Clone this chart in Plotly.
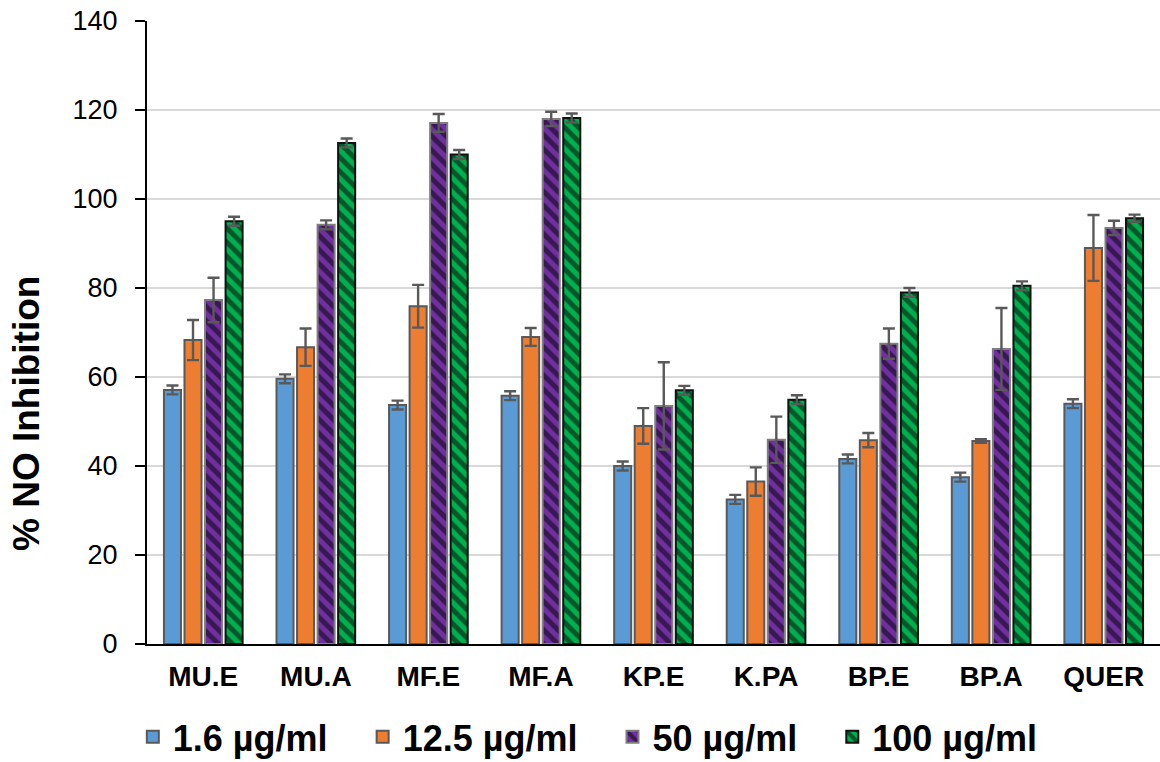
import plotly.graph_objects as go

categories = ["MU.E", "MU.A", "MF.E", "MF.A", "KP.E", "K.PA", "BP.E", "BP.A", "QUER"]
series_names = ["1.6 µg/ml", "12.5 µg/ml", "50 µg/ml", "100 µg/ml"]
v_1_6 = [57.1, 59.6, 53.7, 55.8, 40.0, 32.5, 41.6, 37.5, 54.0]
v_12_5 = [68.3, 66.7, 75.9, 69.0, 49.0, 36.5, 45.8, 45.6, 89.0]
v_50 = [77.3, 94.2, 117.1, 118.0, 53.5, 45.9, 67.5, 66.3, 93.5]
v_100 = [95.0, 112.6, 110.0, 118.2, 57.0, 54.9, 79.0, 80.5, 95.7]
e_1_6 = [1.0, 1.0, 1.0, 1.0, 1.0, 1.0, 1.0, 1.0, 1.0]
e_12_5 = [4.5, 4.2, 4.8, 2.0, 4.0, 3.2, 1.6, 0.4, 7.4]
e_50 = [5.0, 1.0, 2.0, 1.6, 9.8, 5.2, 3.4, 9.2, 1.6]
e_100 = [1.0, 1.0, 1.0, 1.0, 1.0, 1.0, 1.0, 1.0, 0.8]
y_ticks = [0, 20, 40, 60, 80, 100, 120, 140]
y_title = "% NO Inhibition"

values = [v_1_6, v_12_5, v_50, v_100]
errors = [e_1_6, e_12_5, e_50, e_100]
fills = ["#5B9BD5", "#ED7D31", "#7030A0", "#00B050"]
outlines = ["#595959", "#595959", "#7f7f7f", "#111111"]
patterns = [None, None, "\\", "\\"]

FONT = "Liberation Sans, Arial, sans-serif"

fig = go.Figure()
n = len(series_names)
for i, (name, vals, errs, fc, lc, pat) in enumerate(zip(series_names, values, errors, fills, outlines, patterns)):
    marker = dict(color=fc, line=dict(color=lc, width=2))
    if pat:
        marker["pattern"] = dict(shape=pat, fgcolor="#000000", bgcolor=fc,
                                 fillmode="overlay", size=10, solidity=0.5)
    label = "<b>" + name + "</b>" + ("\u00a0\u00a0\u00a0" if i < n - 1 else "")
    fig.add_trace(go.Bar(
        x=categories, y=vals, name=label, marker=marker,
        error_y=dict(type="data", array=errs, visible=True,
                     color="#595959", thickness=2.4, width=6),
    ))

fig.update_layout(
    width=1160, height=762,
    margin=dict(l=147, r=0, t=21, b=118, autoexpand=False),
    paper_bgcolor="white", plot_bgcolor="white",
    barmode="group", bargap=0.27, bargroupgap=0.17,
    font=dict(family=FONT, color="#000000"),
    legend=dict(orientation="h", x=-0.014, xanchor="left", y=-0.149, yanchor="middle",
                font=dict(size=36, family=FONT, color="#000000"),
                itemwidth=30, tracegroupgap=0, traceorder="normal"),
    showlegend=True,
    annotations=[dict(
        text="<b>" + y_title + "</b>", textangle=-90, showarrow=False,
        xref="paper", yref="paper", x=(26 - 147) / 1013, y=(644 - 414) / 623,
        xanchor="center", yanchor="middle",
        font=dict(size=37, family=FONT, color="#000000"),
    )],
)
fig.update_yaxes(
    range=[0, 140], tickvals=y_ticks, showgrid=True, gridcolor="#d9d9d9", gridwidth=1.5,
    showline=True, linecolor="#000000", linewidth=2, ticks="outside", ticklen=10,
    tickcolor="#000000", tickwidth=2, tickfont=dict(size=27, family=FONT),
    ticklabelstandoff=12, automargin=False, zeroline=False,
)
fig.update_xaxes(
    showline=True, linecolor="#000000", linewidth=2, ticks="",
    tickfont=dict(size=28, family=FONT), tickvals=categories,
    ticktext=["<b>" + c + "</b>" for c in categories],
    ticklabelstandoff=6, automargin=False,
)

fig.write_html("out.html")
